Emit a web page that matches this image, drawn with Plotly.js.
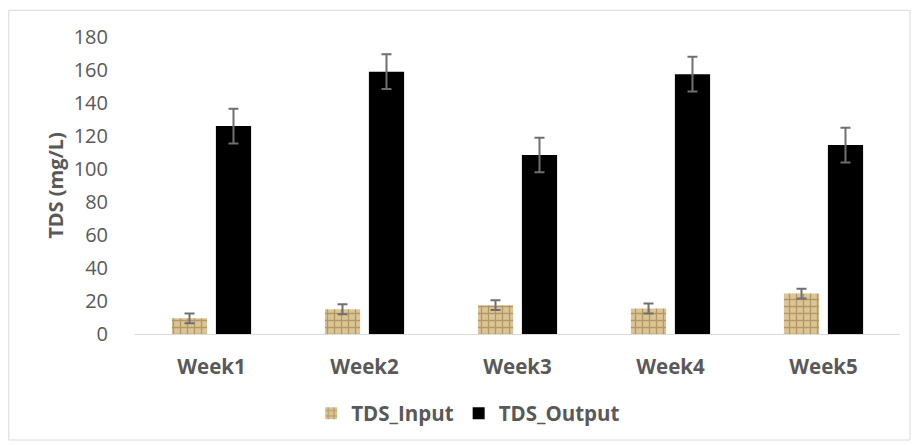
<!DOCTYPE html>
<html><head><meta charset="utf-8">
<script src="https://cdn.plot.ly/plotly-3.0.1.min.js"></script>
<style>body{margin:0;background:#fff}#c{width:913px;height:445px}</style>
</head><body><div id="c"></div>
<script>
const weeks = ["Week1","Week2","Week3","Week4","Week5"];
const tdsInput = [9.5, 15, 17.5, 15.5, 24.5];
const tdsInputErr = [3, 3, 3, 3, 3];
const tdsOutput = [126, 159, 108.5, 157.5, 114.5];
const tdsOutputErr = [10.5, 10.5, 10.5, 10.5, 10.5];
const yTicks = [0,20,40,60,80,100,120,140,160,180];

const errStyle = (a) => ({type:'data', array:a, visible:true, color:'#6f6f6f', thickness:2, width:5});
const data = [
  {type:'bar', name:'TDS_Input', x:weeks, y:tdsInput, error_y:errStyle(tdsInputErr),
   marker:{color:'#d8bf8c', pattern:{shape:'+', bgcolor:'#dcc594', fgcolor:'#8a6a3a', size:7, solidity:0.35, fillmode:'overlay'}, line:{width:0}}},
  {type:'bar', name:'TDS_Output', x:weeks, y:tdsOutput, error_y:errStyle(tdsOutputErr),
   marker:{color:'#000000', line:{width:0}}}
];
const layout = {
  width:913, height:445,
  margin:{l:135, r:13, t:37, b:109},
  paper_bgcolor:'#fff', plot_bgcolor:'#fff',
  font:{family:'"Open Sans", "Liberation Sans", sans-serif', color:'#595959', size:18},
  bargap:0.425, bargroupgap:0.2,
  xaxis:{tickfont:{size:20.5, color:'#595959', weight:'bold'}, showline:true, linecolor:'#d9d9d9', linewidth:1, ticks:'outside', ticklen:14, tickcolor:'rgba(0,0,0,0)', showgrid:false},
  yaxis:{range:[0,180], tickvals:yTicks, ticktext:yTicks.map(String), showgrid:false, zeroline:false, showline:false,
         tickfont:{size:20, color:'#595959'}, ticks:'outside', ticklen:22, tickcolor:'rgba(0,0,0,0)',
         title:{text:'<b>TDS (mg/L)</b>', font:{size:20, color:'#595959'}, standoff:4}},
  legend:{orientation:'h', x:0.2303, xanchor:'left', y:-0.2, yanchor:'top', font:{size:20.5, color:'#595959', weight:'bold'}, itemwidth:30, traceorder:'normal'},
  showlegend:true,
  shapes:[{type:'rect', xref:'paper', yref:'paper', x0:-0.165, x1:1.013, y0:-0.357, y1:1.09, line:{color:'#d9d9d9', width:1}}]
};
Plotly.newPlot('c', data, layout, {displayModeBar:false, staticPlot:true});
</script></body></html>
